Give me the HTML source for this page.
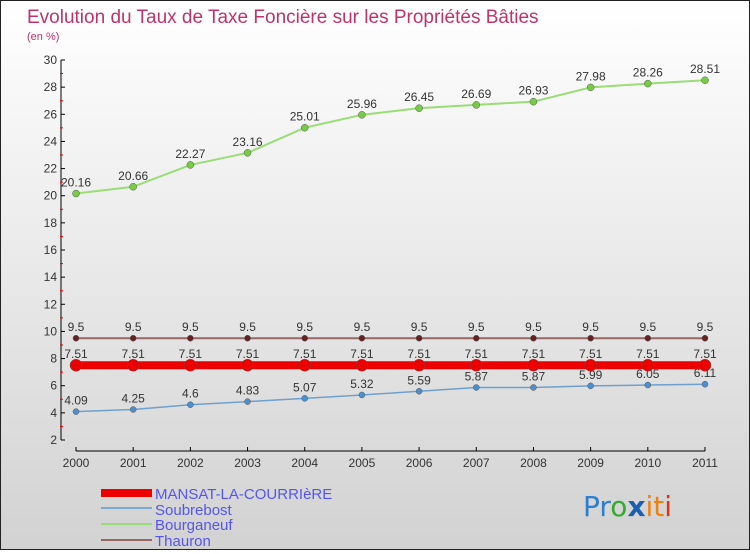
<!DOCTYPE html>
<html><head><meta charset="utf-8"><style>
html,body{margin:0;padding:0}
body{width:750px;height:550px;overflow:hidden;font-family:"Liberation Sans",sans-serif}
#wrap{position:relative;width:748px;height:548px;border:1px solid #222;background:linear-gradient(#ffffff,#d2d2d2)}
</style></head><body>
<div id="wrap">
<svg id="svg" width="748" height="548" xmlns="http://www.w3.org/2000/svg">
<text x="26" y="22" font-size="19" fill="#c0336a">Evolution du Taux de Taxe Foncière sur les Propriétés Bâties</text>
<text x="26" y="39" font-size="11" fill="#c0336a">(en %)</text>
<g id="axes"></g><g id="series"></g>
<g>
<rect x="100" y="488" width="51" height="8" fill="#e00"/>
<text x="154" y="498" font-size="15" fill="#5555ee">MANSAT-LA-COURRIèRE</text>
<line x1="100" y1="507" x2="151" y2="507" stroke="#7aaad0" stroke-width="2"/>
<text x="154" y="514" font-size="15" fill="#5555ee">Soubrebost</text>
<line x1="100" y1="523" x2="151" y2="523" stroke="#99dd77" stroke-width="2"/>
<text x="154" y="529" font-size="15" fill="#5555ee">Bourganeuf</text>
<line x1="100" y1="539" x2="151" y2="539" stroke="#996666" stroke-width="2"/>
<text x="154" y="545" font-size="15" fill="#5555ee">Thauron</text>
</g>
<text x="582" y="515" font-size="28" font-family="DejaVu Sans"><tspan fill="#2a7fd0">Pr</tspan><tspan fill="#33aa33">o</tspan><tspan fill="#1a5fb0" font-weight="bold">x</tspan><tspan fill="#f08010">it</tspan><tspan fill="#dd3311">i</tspan></text>
</svg></div>
<script>
const years=["2000","2001","2002","2003","2004","2005","2006","2007","2008","2009","2010","2011"];
const yTicks=[2,4,6,8,10,12,14,16,18,20,22,24,26,28,30];
const mansat=[7.51,7.51,7.51,7.51,7.51,7.51,7.51,7.51,7.51,7.51,7.51,7.51];
const soubrebost=[4.09,4.25,4.6,4.83,5.07,5.32,5.59,5.87,5.87,5.99,6.05,6.11];
const bourganeuf=[20.16,20.66,22.27,23.16,25.01,25.96,26.45,26.69,26.93,27.98,28.26,28.51];
const thauron=[9.5,9.5,9.5,9.5,9.5,9.5,9.5,9.5,9.5,9.5,9.5,9.5];
const NS="http://www.w3.org/2000/svg";
const X=i=>75+i*(629/11);
const Y=v=>439-(v-2)*(380/28);
function mk(p,t,a){const e=document.createElementNS(NS,t);for(const k in a)e.setAttribute(k,a[k]);p.appendChild(e);return e;}
const ax=document.getElementById('axes');
let e=mk(ax,'line',{x1:60,y1:Y(30),x2:60,y2:Y(2),stroke:'#000'});


yTicks.forEach(v=>{
 mk(ax,'line',{x1:60,y1:Y(v),x2:64,y2:Y(v),stroke:'#000'});
 mk(ax,'line',{x1:59,y1:Y(v+1),x2:62,y2:Y(v+1),stroke:v<30?'#e00':'none'});
 const t=mk(ax,'text',{x:56,y:Y(v)+4,'font-size':12,'text-anchor':'end',fill:'#333'});t.textContent=v;
 
 
});
e=mk(ax,'line',{x1:X(0),y1:450,x2:X(11),y2:450,stroke:'#000'});


years.forEach((y,i)=>{
 mk(ax,'line',{x1:X(i),y1:446,x2:X(i),y2:450,stroke:'#000'});
 const t=mk(ax,'text',{x:X(i),y:466,'font-size':12,'text-anchor':'middle',fill:'#333'});t.textContent=y;
 
 
});
const sg=document.getElementById('series');
function series(name,vals,color,w,r,fillPt,lab){
 const g=mk(sg,'g',{});
 
 
 mk(g,'polyline',{points:vals.map((v,i)=>X(i)+','+Y(v)).join(' '),fill:'none',stroke:color,'stroke-width':w});
 vals.forEach((v,i)=>{
  const c=mk(g,'circle',{cx:X(i),cy:Y(v),r:r,fill:fillPt,stroke:'#555','stroke-width':0.5});
  
  
  if(lab){const t=mk(g,'text',{x:X(i),y:Y(v)-7,'font-size':12,'text-anchor':'middle',fill:'#333'});t.textContent=v;
  
  }
 });
}
series('bourganeuf',bourganeuf,'#99dd77',2,3.5,'#77cc44',true);
series('thauron',thauron,'#996666',2,3,'#662222',true);
series('soubrebost',soubrebost,'#6fa0cc',1.5,3,'#4a90d0',true);
series('mansat',mansat,'#e00',8,6,'#e00',true);
</script>
</body></html>
